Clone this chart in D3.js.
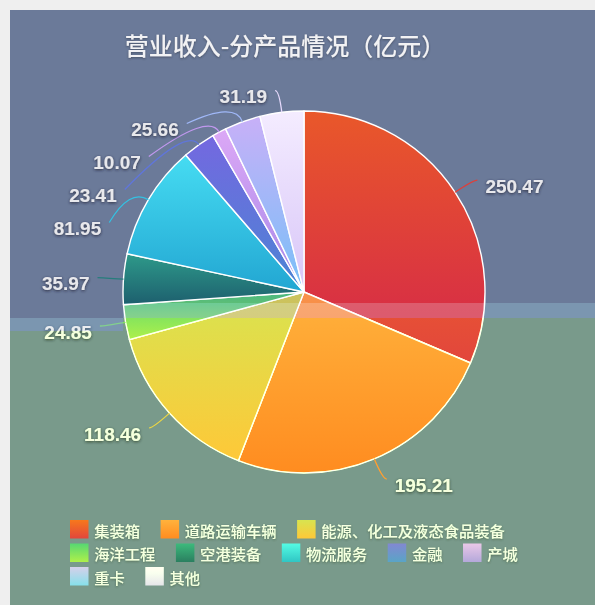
<!DOCTYPE html>
<html>
<head>
<meta charset="utf-8">
<script src="https://cdn.jsdelivr.net/npm/d3@7"></script>
<style>
  html, body { margin: 0; padding: 0; background: #efefef; }
  svg { display: block; }
</style>
</head>
<body>
<svg id="chart" width="595" height="605"></svg>
<script>
// ---------- data ----------
const title = "营业收入-分产品情况（亿元）";
const categories = ["集装箱", "道路运输车辆", "能源、化工及液态食品装备", "海洋工程", "空港装备",
                    "物流服务", "金融", "产城", "重卡", "其他"];
const values = [250.47, 195.21, 118.46, 24.85, 35.97, 81.95, 23.41, 10.07, 25.66, 31.19];
const valueLabels = ["250.47", "195.21", "118.46", "24.85", "35.97", "81.95", "23.41", "10.07", "25.66", "31.19"];

// ---------- palette (gradient top / bottom per category) ----------
const colorTop    = ["#e9582a", "#f8924a", "#cac45e", "#48b880", "#2e9a8a", "#46dcf2", "#7468e0", "#dca8f6", "#c8b0f8", "#f4ecff"];
const colorBottom = ["#d4264a", "#f46c2e", "#f0a846", "#a0d058", "#1d5f6e", "#22a6d2", "#4c84d4", "#a688e8", "#78c0f8", "#d8c6f8"];

const W = 595, H = 605;
const svg = d3.select("#chart");
const defs = svg.append("defs");

// colour grading of the photographed chart (lower half tinted, light band)
const grade = defs.append("filter").attr("id", "grade")
  .attr("filterUnits", "userSpaceOnUse").attr("primitiveUnits", "userSpaceOnUse")
  .attr("x", 0).attr("y", 0).attr("width", W).attr("height", H)
  .attr("color-interpolation-filters", "sRGB");
const tint = "1 0 0 0 0.055  0 1 0 0 0.125  0 0 1 0 -0.055  0 0 0 1 0";
const band = "0.892 0 0 0 0.108  0 0.79 0 0 0.21  0 0 0.775 0 0.225  0 0 0 1 0";
[["t1", tint, 123, 318, 472, 287], ["t2", tint, 10, 331, 113, 274],
 ["b1", band, 123, 303, 472, 15], ["b2", band, 10, 318, 113, 13]].forEach(([id, m, x, y, w, h]) => {
  grade.append("feColorMatrix").attr("in", "SourceGraphic").attr("type", "matrix")
    .attr("values", m).attr("x", x).attr("y", y).attr("width", w).attr("height", h).attr("result", id);
});
const merge = grade.append("feMerge");
["SourceGraphic", "t1", "t2", "b1", "b2"].forEach(n => merge.append("feMergeNode").attr("in", n));

const shadow = defs.append("filter").attr("id", "shadow")
  .attr("x", "-30%").attr("y", "-50%").attr("width", "160%").attr("height", "200%");
shadow.append("feDropShadow").attr("dx", 0).attr("dy", 1).attr("stdDeviation", 1.6)
  .attr("flood-color", "#1e2430").attr("flood-opacity", 0.85);

const soft = defs.append("filter").attr("id", "soft")
  .attr("x", "-10%").attr("y", "-30%").attr("width", "120%").attr("height", "160%");
soft.append("feDropShadow").attr("dx", 0).attr("dy", 1).attr("stdDeviation", 1)
  .attr("flood-color", "#2a3040").attr("flood-opacity", 0.6);

categories.forEach((c, i) => {
  const g = defs.append("linearGradient").attr("id", "grad" + i)
    .attr("x1", 0).attr("y1", 0).attr("x2", 0).attr("y2", 1);
  g.append("stop").attr("offset", "0%").attr("stop-color", colorTop[i]);
  g.append("stop").attr("offset", "100%").attr("stop-color", colorBottom[i]);
});

const root = svg.append("g").attr("filter", "url(#grade)");

// background panel
root.append("rect").attr("x", 10).attr("y", 10).attr("width", W - 10).attr("height", H - 10)
  .attr("fill", "#6b7a99");

// title
root.append("text")
  .attr("x", 285).attr("y", 44)
  .attr("text-anchor", "middle").attr("dominant-baseline", "central")
  .attr("font-family", "'Noto Sans CJK SC', 'Noto Sans', sans-serif")
  .attr("font-size", 24).attr("font-weight", 500)
  .attr("fill", "#f2f2f4").attr("filter", "url(#soft)")
  .text(title);

// ---------- pie ----------
const cx = 304, cy = 292, r = 181;
const pie = d3.pie().sort(null).value(d => d);
const arcs = pie(values);
const arc = d3.arc().innerRadius(0).outerRadius(r);

const pieG = root.append("g").attr("transform", `translate(${cx},${cy})`);
pieG.selectAll("path.slice").data(arcs).join("path")
  .attr("class", "slice")
  .attr("d", arc)
  .attr("fill", (d, i) => `url(#grad${i})`)
  .attr("stroke", "#ffffff").attr("stroke-width", 1.4).attr("stroke-linejoin", "round");

// ---------- labels with leader lines ----------
const R = r + 22, len2 = 4, minGap = 33, textGap = 8;
const items = arcs.map((d, i) => {
  const a = (d.startAngle + d.endAngle) / 2;
  const side = Math.sin(a) >= 0 ? 1 : -1;
  const p0 = [cx + r * Math.sin(a), cy - r * Math.cos(a)];
  const p1 = [cx + R * Math.sin(a), cy - R * Math.cos(a)];
  return { i, a, side, p0, p1, ly: p1[1] };
});
[1, -1].forEach(side => {
  const s = items.filter(o => o.side === side).sort((a, b) => a.ly - b.ly);
  for (let k = 1; k < s.length; k++) s[k].ly = Math.max(s[k].ly, s[k - 1].ly + minGap);
  const bottom = H - 20;
  if (s.length && s[s.length - 1].ly > bottom) {
    s[s.length - 1].ly = bottom;
    for (let k = s.length - 2; k >= 0; k--) s[k].ly = Math.min(s[k].ly, s[k + 1].ly - minGap);
  }
});
items.forEach(o => {
  const dy = o.ly - cy;
  let x = Math.abs(dy) < R ? cx + o.side * Math.sqrt(R * R - dy * dy) : o.p1[0];
  if (Math.abs(o.ly - o.p1[1]) < 0.5) x = o.p1[0];
  o.p2 = [x + o.side * len2, o.ly];
});

const labelG = root.append("g");
labelG.selectAll("path.leader").data(items).join("path")
  .attr("class", "leader")
  .attr("d", o => `M${o.p0[0]},${o.p0[1]} Q${o.p1[0]},${o.p1[1]} ${o.p2[0]},${o.p2[1]}`)
  .attr("fill", "none")
  .attr("stroke", o => d3.interpolateRgb(colorTop[o.i], colorBottom[o.i])(0.5))
  .attr("stroke-width", 1.3);

labelG.selectAll("text.vlabel").data(items).join("text")
  .attr("class", "vlabel")
  .attr("x", o => o.p2[0] + o.side * textGap)
  .attr("y", o => o.ly + 12.8)
  .attr("text-anchor", o => o.side > 0 ? "start" : "end")
  .attr("font-family", "'Liberation Sans', Arial, sans-serif")
  .attr("font-size", 19).attr("font-weight", "bold")
  .attr("fill", "#e8e8ec").attr("filter", "url(#shadow)")
  .text(o => valueLabels[o.i]);

// ---------- legend ----------
const legG = root.append("g");
const sw = 18.5, swGap = 5.7, itemGap = 20.5, rowH = 23.5, legX0 = 70, legY0 = 520, legMax = 585;
let lx = legX0, ly = legY0;
categories.forEach((c, i) => {
  const g = legG.append("g");
  const t = g.append("text")
    .attr("font-family", "'Noto Sans CJK SC', sans-serif")
    .attr("font-size", 15.3).attr("font-weight", 500)
    .attr("fill", "#e8e8ee").attr("filter", "url(#soft)")
    .attr("dominant-baseline", "central")
    .text(c);
  const tw = t.node().getComputedTextLength();
  const w = sw + swGap + tw;
  if (lx + w > legMax && lx > legX0) { lx = legX0; ly += rowH; }
  g.insert("rect", "text").attr("x", lx).attr("y", ly).attr("width", sw).attr("height", sw)
    .attr("fill", `url(#grad${i})`);
  t.attr("x", lx + sw + swGap).attr("y", ly + sw / 2 + 0.5);
  lx += w + itemGap;
});
</script>
</body>
</html>
